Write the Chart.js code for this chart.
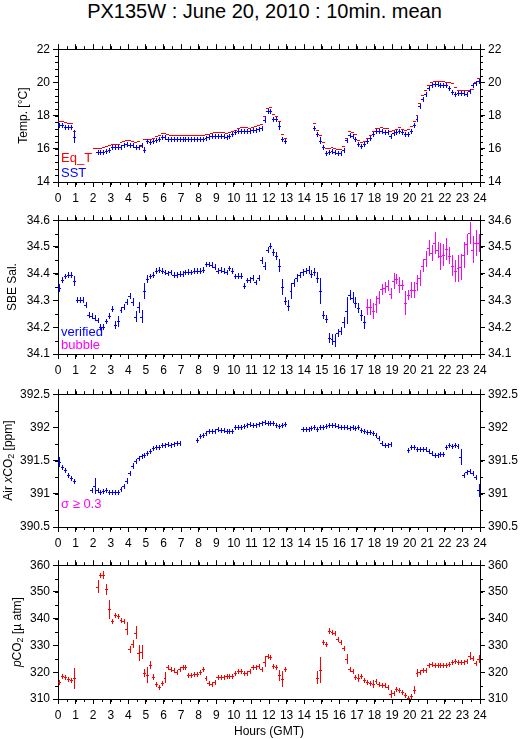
<!DOCTYPE html>
<html>
<head>
<meta charset="utf-8">
<script src="https://cdn.jsdelivr.net/npm/chart.js@4.4.1/dist/chart.umd.min.js"></script>
<style>
  body { margin: 0; background: #fff; width: 529px; height: 739px; position: relative; overflow: hidden; }
  canvas { position: absolute; left: 0; }
  #titulo { position: absolute; top: 2px; left: 0; width: 529px; text-align: center;
            font: 20px "Liberation Sans", Arial, sans-serif; line-height: 19px; color: #000; }
</style>
</head>
<body>
<div id="titulo">PX135W : June 20, 2010 : 10min. mean</div>
<canvas id="temp" width="529" height="169" style="top:39px"></canvas>
<canvas id="sal" width="529" height="170" style="top:210px"></canvas>
<canvas id="xco2" width="529" height="169" style="top:384px"></canvas>
<canvas id="pco2" width="529" height="184" style="top:555px"></canvas>
<script>
// Medias de 10 minutos: 144 intervalos por día, centro de cada intervalo en horas GMT
const horas = Array.from({ length: 144 }, (_, i) => (i + 0.5) / 6);
const MEDIO_INTERVALO = 1 / 12;   // 5 minutos a cada lado
const HORA_BURBUJA = 17.5;        // desde aquí la salinidad se marca como "bubble"

// Temperatura del equilibrador (Eq_T), una fila por hora
const eqT = [
  17.66,17.66,17.62,17.58,17.56,17.08,
  null,null,null,null,null,null,
  16.03,16.03,16.05,16.10,16.15,16.20,
  16.28,16.30,16.30,16.38,16.45,16.55,
  16.53,16.50,16.42,16.46,16.18,16.58,
  16.62,16.62,16.65,16.78,16.85,16.95,
  16.95,16.90,16.82,16.82,16.85,16.85,
  16.85,16.85,16.85,16.85,16.85,16.85,
  16.85,16.85,16.88,16.92,16.98,17.00,
  17.02,17.02,17.00,16.98,17.00,17.05,
  17.15,17.28,17.30,17.30,17.30,17.28,
  17.32,17.38,17.42,17.48,17.95,18.45,
  18.50,18.12,18.00,17.66,16.90,16.65,
  null,null,null,null,null,null,
  null,null,null,17.56,17.14,16.85,
  16.40,16.07,16.03,16.10,16.07,16.01,
  16.01,16.17,16.65,17.08,17.04,16.92,
  16.55,16.40,16.50,16.65,16.85,17.08,
  17.23,17.27,17.29,17.27,17.23,17.10,
  17.12,17.21,17.29,17.21,17.12,17.20,
  17.37,17.66,18.05,18.78,19.25,19.52,
  19.85,20.02,20.10,20.10,20.08,20.06,
  20.04,20.00,19.95,19.71,19.56,19.56,
  19.56,19.56,19.52,19.62,20.04,20.25
];

// Temperatura superficial (SST)
const sst = [
  17.43,17.43,17.31,17.31,17.31,16.73,
  null,null,null,null,null,null,
  null,15.79,15.78,15.82,15.85,15.90,
  16.08,16.10,16.08,16.12,16.22,16.30,
  16.25,16.20,16.10,16.10,16.20,15.92,
  16.45,16.38,16.45,16.52,16.62,16.72,
  16.72,16.60,16.60,16.60,16.60,16.62,
  16.62,16.62,16.60,16.60,16.62,16.60,
  16.60,16.62,16.65,16.70,16.75,16.76,
  16.76,16.76,16.76,16.74,16.80,16.90,
  17.00,17.08,17.08,17.05,17.05,17.08,
  17.12,17.15,17.20,17.25,17.75,18.25,
  18.30,17.82,17.78,17.38,16.62,16.45,
  null,null,null,null,null,null,
  null,null,null,17.28,16.88,16.50,
  16.12,15.75,15.80,15.85,15.78,15.75,
  15.75,15.95,16.52,16.85,16.75,16.62,
  16.28,16.18,16.28,16.48,16.65,16.92,
  17.05,17.08,17.05,17.02,17.00,16.78,
  16.98,17.02,17.05,17.02,16.88,16.90,
  17.08,17.45,17.80,18.60,19.00,19.30,
  19.68,19.82,19.88,19.88,19.85,19.85,
  19.82,19.65,19.42,19.32,19.35,19.38,
  19.38,19.28,19.48,19.85,19.98,20.10
];
const sstErr = [
  0,0,0,0,0,0.4,  0,0,0,0,0,0,  0,0,0,0,0,0,  0,0,0,0,0,0,
  0,0,0.1,0.12,0.12,0.18,  0,0,0,0,0,0,  0,0,0,0,0,0,  0,0,0,0,0,0,
  0,0,0,0,0,0,  0,0,0,0,0,0,  0,0,0,0,0,0,  0,0,0,0,0.2,0,
  0,0,0,0.25,0.12,0,  0,0,0,0,0,0,  0,0,0,0,0,0.2,  0,0,0,0,0,0,
  0,0,0,0,0,0,  0,0,0,0,0,0,  0,0,0,0,0,0,  0,0,0,0,0,0,
  0,0,0.15,0.08,0,0,  0,0,0,0,0,0,  0,0,0,0,0,0,  0,0,0,0,0,0
];

// Salinidad SBE
const sal = [
  34.347,34.378,34.390,34.395,34.395,34.373,
  34.302,34.302,34.302,34.283,34.247,34.243,
  34.234,34.226,34.200,34.200,34.222,34.242,
  34.270,34.210,34.222,34.266,34.275,34.294,
  34.318,34.294,34.240,34.275,34.240,34.336,
  34.380,34.390,34.395,34.410,34.415,34.412,
  34.405,34.402,34.405,34.397,34.397,34.400,
  34.400,34.405,34.408,34.405,34.410,34.410,
  34.412,34.415,34.435,34.435,34.432,34.425,
  34.412,34.415,34.410,34.405,34.420,34.410,
  34.390,34.392,34.392,34.355,34.375,34.378,
  34.385,34.368,34.385,34.450,34.430,34.488,
  34.505,34.480,34.468,34.430,34.350,34.298,
  34.280,34.335,34.365,34.385,34.395,34.405,
  34.410,34.415,34.400,34.408,34.385,34.335,
  34.245,34.232,34.160,34.155,34.150,34.180,
  34.185,34.218,34.262,34.320,34.310,34.292,
  34.272,34.245,34.218,34.275,34.275,34.260,
  34.285,34.310,34.342,34.348,34.355,34.325,
  34.372,34.380,34.358,34.358,34.290,34.320,
  34.340,34.340,34.365,34.385,34.430,34.455,
  34.495,34.478,34.515,34.490,34.465,34.470,
  34.492,34.468,34.430,34.410,34.420,34.425,
  34.470,34.510,34.552,34.490,34.515,34.515
];
const salErr = [
  .015,.01,.01,.01,.01,.02,   .01,.01,.01,.01,.01,.01,
  .01,.01,.012,.012,.01,.01,  .01,.015,.02,.01,.01,.01,
  .01,.015,.02,.02,.025,.03,  .015,.01,.01,.01,.01,.01,
  .01,.01,.01,.01,.01,.01,    .01,.01,.01,.01,.01,.01,
  .01,.01,.01,.01,.01,.01,    .01,.01,.01,.01,.01,.01,
  .01,.01,.01,.012,.01,.01,   .01,.01,.01,.012,.015,.012,
  .01,.012,.015,.025,.03,.015, .02,.03,.015,.015,.012,.012,
  .012,.015,.015,.015,.02,.05, .015,.015,.02,.02,.025,.015,
  .015,.02,.05,.02,.02,.02,   .02,.02,.025,.03,.03,.03,
  .03,.025,.02,.02,.02,.02,   .03,.02,.03,.02,.045,.02,
  .03,.03,.03,.03,.025,.03,   .03,.03,.04,.03,.05,.04,
  .04,.03,.04,.04,.05,.05,    .05,.04,.04,.05,.05,.035
];

// xCO2 del aire [ppm]
const xco2 = [
  391.48,391.40,391.36,391.28,391.24,391.20,
  null,null,null,null,null,391.05,
  391.12,391.05,391.03,391.04,391.05,391.02,
  391.02,391.03,391.03,391.07,391.12,391.20,
  391.31,391.42,391.50,391.54,391.57,391.58,
  391.62,391.65,391.69,391.70,391.71,391.73,
  391.73,391.75,391.74,391.75,391.76,391.77,
  null,null,null,null,null,391.81,
  391.87,391.89,391.92,391.94,391.95,391.95,
  391.97,391.96,391.96,391.94,391.94,391.95,
  392.00,392.00,392.00,392.02,392.04,392.05,
  392.03,392.04,392.05,392.06,392.08,392.07,
  392.06,392.06,392.04,392.02,392.03,392.05,
  null,null,null,null,null,391.98,
  391.98,391.98,391.99,392.00,391.97,392.00,
  392.01,392.02,392.04,392.04,392.03,392.02,
  392.00,392.00,392.00,391.99,392.00,391.99,
  392.00,391.96,391.94,391.93,391.93,391.91,
  391.88,391.84,391.77,391.73,391.73,391.75,
  null,null,null,null,null,391.66,
  391.70,391.71,391.68,391.67,391.67,391.67,
  391.65,391.62,391.58,391.59,391.60,391.60,
  391.71,391.74,391.72,391.74,391.72,391.55,
  391.29,391.33,391.35,391.32,391.26,391.05
];
const xco2Err = [
  .07,.03,.03,.03,.03,0,  0,0,0,0,0,0,  .12,0,0,0,0,0,  0,0,0,.03,.03,.04,
  .04,.04,.03,.03,.03,0,  0,0,0,0,0,0,  0,0,0,0,0,0,    0,0,0,0,0,0,
  0,0,0,0,0,0,  0,0,0,0,0,0,  0,0,0,0,0,0,  0,0,0,0,0,0,
  0,0,0,0,0,0,  0,0,0,0,0,0,  0,0,0,0,0,0,  0,0,0,0,0,0,
  0,0,0,0,0,0,  0,0,0,.03,0,0,  0,0,0,0,0,0,  0,0,0,0,0,0,
  0,0,0,0,0,0,  0,0,0,0,0,0,  .03,.03,0,0,0,.12,  .03,0,0,0,.03,.1
];

// pCO2 [µatm]
const pco2 = [
  316.3,318.7,318.2,317.4,317.0,317.7,
  null,null,null,null,null,null,
  null,352.0,356.2,356.5,351.0,343.5,
  339.2,341.3,341.0,339.5,339.0,336.3,
  328.5,330.5,334.8,327.2,327.6,319.6,
  319.0,322.8,318.2,315.6,314.6,316.0,
  318.0,321.8,321.2,320.8,320.2,321.2,
  321.8,321.8,318.8,318.9,319.5,319.2,
  320.2,321.2,318.0,315.9,315.5,316.3,
  318.1,318.2,318.3,318.5,318.5,318.6,
  319.8,320.3,320.5,319.8,319.8,320.5,
  321.8,321.8,322.5,321.2,324.0,325.9,
  325.8,322.2,322.1,318.8,317.4,321.1,
  null,null,null,null,null,null,
  null,null,null,null,318.0,320.8,
  331.2,330.4,335.5,335.0,334.8,332.6,
  331.2,329.1,325.0,321.1,320.6,318.2,
  318.0,318.6,317.0,316.2,316.0,315.6,
  316.7,315.6,315.3,315.2,314.4,312.0,
  312.3,313.6,313.4,312.8,311.4,310.5,
  311.0,313.4,319.6,320.0,321.0,321.0,
  322.8,322.9,322.8,322.6,322.6,322.6,
  322.8,323.2,324.0,324.3,324.0,323.8,
  324.0,324.2,326.2,325.3,323.6,324.8
];
const pco2Err = [
  0,0,0,0,0,4,  0,0,0,0,0,0,  0,2.5,0.8,1.5,2,3.5,  0,0.8,0,0,0,2.5,
  1.2,1.5,2.5,3,2.5,1.5,  3,1.5,1,0,0,0,  2,0,0,0,0,0,  0,0,0,0,0,0,
  0,0,0,0,0,0,  0,0,0,0,0,0,  0,0,0,0,0,0,  0,0,0,0,2,0,
  0,0,0,2,3,0,  0,0,0,0,0,0,  0,0,0,0,2.5,5,  0,0,1,0,0,0,
  0,0,2,0,0,0,  1.5,0,0,0,0,1.5,  0,0,0,0,0,1.5,  0,0,0,0,0,0,
  0,1.5,1.5,0,0,0,  0,0,0,0,0,0,  0,0,0,0,0,0,  0,0,1.5,0,0,1.5
];

const FAMILIA = '"Liberation Sans", Arial, Helvetica, sans-serif';
const ROJO = '#ff0000', AZUL = '#0000ff', MAGENTA = '#ff00ff';
Chart.defaults.font.family = FAMILIA;
Chart.defaults.font.size = 12;
Chart.defaults.color = '#000';

// Dibuja cada media como una cruz: barra horizontal de 10 min y barra vertical de error
const pluginCruces = {
  id: 'cruces',
  afterDatasetsDraw(chart) {
    const ctx = chart.ctx, a = chart.chartArea;
    const sx = chart.scales.x, sy = chart.scales.y;
    ctx.save();
    ctx.beginPath();
    ctx.rect(a.left, a.top, a.right - a.left, a.bottom - a.top);
    ctx.clip();
    ctx.lineWidth = 1;
    chart.data.datasets.forEach(ds => {
      ctx.strokeStyle = ds.borderColor;
      ctx.beginPath();
      ds.data.forEach((p, i) => {
        if (p.y == null) return;
        const x0 = Math.round(sx.getPixelForValue(p.x - MEDIO_INTERVALO));
        const x1 = Math.round(sx.getPixelForValue(p.x + MEDIO_INTERVALO));
        const yc = Math.round(sy.getPixelForValue(p.y)) + 0.5;
        ctx.moveTo(x0, yc);
        ctx.lineTo(x1, yc);
        if (ds.err) {
          const xc = Math.round(sx.getPixelForValue(p.x)) + 0.5;
          const ya = Math.min(sy.getPixelForValue(p.y + ds.err[i]), yc - 2.5);
          const yb = Math.max(sy.getPixelForValue(p.y - ds.err[i]), yc + 2.5);
          ctx.moveTo(xc, Math.round(ya));
          ctx.lineTo(xc, Math.round(yb));
        }
      });
      ctx.stroke();
    });
    ctx.restore();
  }
};

// Marcas menores hacia afuera en los cuatro lados
const pluginMenores = {
  id: 'menores',
  afterDraw(chart, args, o) {
    const ctx = chart.ctx, a = chart.chartArea;
    const sx = chart.scales.x, sy = chart.scales.y;
    ctx.save();
    ctx.strokeStyle = '#000';
    ctx.lineWidth = 1;
    ctx.beginPath();
    for (let v = sx.min; v <= sx.max + 1e-6; v += o.x) {
      const px = Math.round(sx.getPixelForValue(v)) + 0.5;
      ctx.moveTo(px, a.top); ctx.lineTo(px, a.top - 3);
      ctx.moveTo(px, a.bottom); ctx.lineTo(px, a.bottom + 3);
    }
    for (let v = sy.min; v <= sy.max + 1e-6; v += o.y) {
      const py = Math.round(sy.getPixelForValue(v)) + 0.5;
      ctx.moveTo(a.left, py); ctx.lineTo(a.left - 3, py);
      ctx.moveTo(a.right, py); ctx.lineTo(a.right + 3, py);
    }
    ctx.stroke();
    ctx.restore();
  }
};

// Título del eje y (con subíndices) y rótulos de color dentro del gráfico
function fuentePieza(p) {
  return (p.it ? 'italic ' : '') + (p.sub ? '9px ' : '12px ') + FAMILIA;
}
const pluginRotulos = {
  id: 'rotulos',
  afterDraw(chart, args, o) {
    const ctx = chart.ctx, a = chart.chartArea;
    ctx.save();
    ctx.translate(o.tituloX, (a.top + a.bottom) / 2);
    ctx.rotate(-Math.PI / 2);
    ctx.fillStyle = '#000';
    ctx.textBaseline = 'middle';
    let total = 0;
    o.titulo.forEach(p => { ctx.font = fuentePieza(p); total += ctx.measureText(p.t).width; });
    let x = -total / 2;
    o.titulo.forEach(p => {
      ctx.font = fuentePieza(p);
      ctx.fillText(p.t, x, p.sub ? 3 : 0);
      x += ctx.measureText(p.t).width;
    });
    ctx.restore();

    ctx.save();
    ctx.font = '13px ' + FAMILIA;
    ctx.textBaseline = 'alphabetic';
    o.textos.forEach(t => {
      ctx.fillStyle = t.color;
      ctx.fillText(t.t, a.left + 3, a.bottom + t.dy);
    });
    ctx.restore();
  }
};

const etiqueta = v => String(Math.round(v * 100) / 100);

function ejeX(pos, conEtiquetas, alto, titulo) {
  return {
    type: 'linear', position: pos, min: 0, max: 24,
    afterFit: s => { s.height = alto; },
    ticks: { display: conEtiquetas, stepSize: 1, autoSkip: false, maxRotation: 0, padding: 4, callback: etiqueta },
    grid: { drawOnChartArea: false, drawTicks: true, tickLength: 5, color: '#000', tickColor: '#000' },
    border: { display: true, color: '#000', width: 1 },
    title: titulo ? { display: true, text: titulo, font: { size: 12 }, padding: { top: 0, bottom: 0 } } : { display: false }
  };
}

function ejeY(pos, c) {
  return {
    type: 'linear', position: pos, min: c.min, max: c.max,
    afterFit: s => { s.width = pos === 'left' ? 58 : 49; },
    ticks: { stepSize: c.paso, padding: 3, callback: etiqueta },
    grid: { drawOnChartArea: false, drawTicks: true, tickLength: 5, color: '#000', tickColor: '#000' },
    border: { display: true, color: '#000', width: 1 }
  };
}

function serie(vals, err, color, filtro) {
  return {
    data: horas.map((h, i) => ({ x: h, y: (!filtro || filtro(h)) ? vals[i] : null })),
    err: err, borderColor: color, backgroundColor: color,
    pointRadius: 0, showLine: false
  };
}

function crearPanel(id, c) {
  new Chart(document.getElementById(id), {
    type: 'scatter',
    data: { datasets: c.series },
    options: {
      responsive: false, animation: false, events: [],
      layout: { padding: 0 },
      plugins: {
        legend: { display: false }, tooltip: { enabled: false },
        menores: { x: 0.5, y: c.menor },
        rotulos: { tituloX: c.tituloX, titulo: c.titulo, textos: c.textos }
      },
      scales: {
        x: ejeX('bottom', true, c.altoX || 26, c.tituloEjeX),
        x2: ejeX('top', false, 6),
        y: ejeY('left', c),
        y2: ejeY('right', c)
      }
    },
    plugins: [pluginCruces, pluginMenores, pluginRotulos]
  });
}

crearPanel('temp', {
  min: 14, max: 22, paso: 2, menor: 0.4, tituloX: 24,
  titulo: [{ t: 'Temp. [°C]' }],
  textos: [{ t: 'Eq_T', color: ROJO, dy: -20 }, { t: 'SST', color: AZUL, dy: -5 }],
  series: [serie(eqT, null, ROJO), serie(sst, sstErr, AZUL)]
});

crearPanel('sal', {
  min: 34.1, max: 34.6, paso: 0.1, menor: 0.05, tituloX: 13,
  titulo: [{ t: 'SBE Sal.' }],
  textos: [{ t: 'verified', color: AZUL, dy: -18 }, { t: 'bubble', color: MAGENTA, dy: -5 }],
  series: [
    serie(sal, salErr, AZUL, h => h < HORA_BURBUJA),
    serie(sal, salErr, MAGENTA, h => h >= HORA_BURBUJA)
  ]
});

crearPanel('xco2', {
  min: 390.5, max: 392.5, paso: 0.5, menor: 0.25, tituloX: 9,
  titulo: [{ t: 'Air ' }, { t: 'x', it: true }, { t: 'CO' }, { t: '2', sub: true }, { t: ' [ppm]' }],
  textos: [{ t: 'σ ≥ 0.3', color: MAGENTA, dy: -19 }],
  series: [serie(xco2, xco2Err, AZUL)]
});

crearPanel('pco2', {
  min: 310, max: 360, paso: 10, menor: 5, tituloX: 18, altoX: 40, tituloEjeX: 'Hours (GMT)',
  titulo: [{ t: 'p', it: true }, { t: 'CO' }, { t: '2', sub: true }, { t: ' [µ atm]' }],
  textos: [],
  series: [serie(pco2, pco2Err, ROJO)]
});
</script>
</body>
</html>
